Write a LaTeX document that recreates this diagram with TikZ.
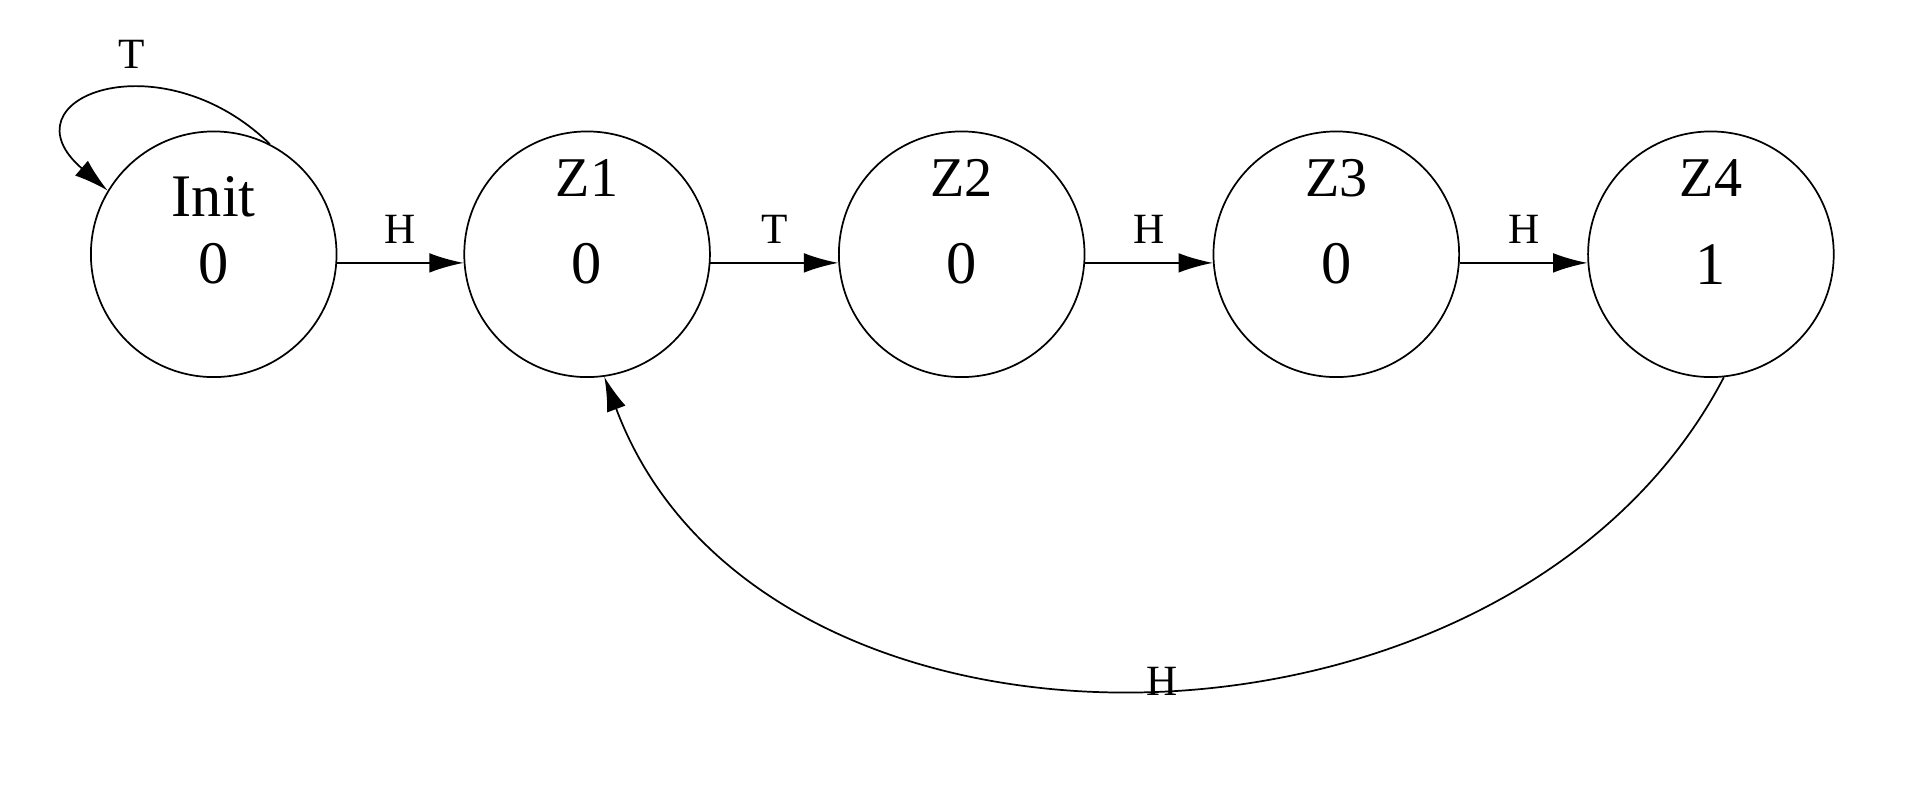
\documentclass[tikz,border=0pt]{standalone}
\usepackage{fontspec}
\setmainfont{Liberation Serif}
\usetikzlibrary{arrows.meta,calc}
\begin{document}
\begin{tikzpicture}[font=\fontsize{10}{12}\selectfont,
  state/.style={draw,thin,circle,minimum size=2cm,inner sep=0pt},
  trans/.style={thin,-{Latex[length=2.8mm,width=1.6mm]}}]
\useasboundingbox (0,0) rectangle (15.6,-6.51);

% states
\foreach \n/\x/\t/\o in {init/1.74/Init/0,z1/4.78/Z1/0,z2/7.83/Z2/0,z3/10.88/Z3/0,z4/13.93/Z4/1}{%
\node[state] (\n) at (\x,-2.07) {};
\node[font=\fontsize{14}{16}\selectfont] (\n o) at (\x,-2.15) {\o};
}
\node[font=\fontsize{14}{16}\selectfont] (initt) at (1.74,-1.60) {Init};
\foreach \n/\t in {z1/Z1,z2/Z2,z3/Z3,z4/Z4}{%
\node[font=\fontsize{13}{15}\selectfont] (\n t) at ($(\n)+(0,0.62)$) {\t};
}

% transitions
\foreach \a/\b/\l in {init/z1/H,z1/z2/T,z2/z3/H,z3/z4/H}{%
\draw[trans] (\a.-4) -- (\b.184) node[midway,above=1pt] {\l};
}
\draw[trans] (init.63) .. controls (1.3,-0.3) and (0.0,-0.8) .. (init.149);
\node (loopt) at (1.07,-0.44) {T};
\draw[trans] (z4.-84) .. controls (12.3,-6.4) and (6.2,-6.5) .. (z1.-82);
\node (backh) at (9.46,-5.55) {H};
\end{tikzpicture}
\end{document}
